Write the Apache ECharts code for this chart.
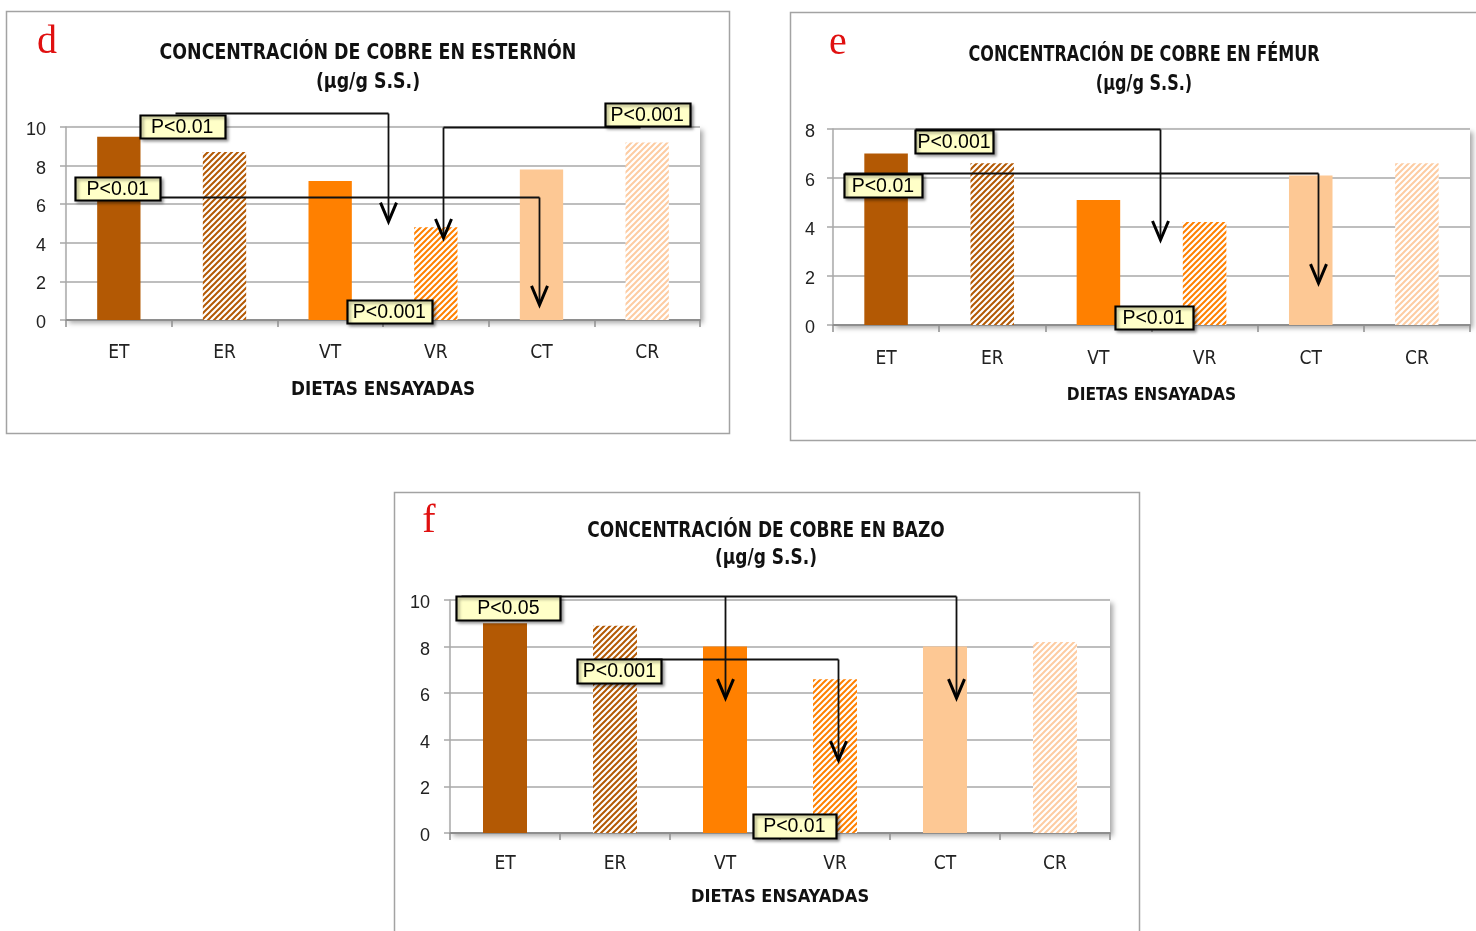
<!DOCTYPE html>
<html>
<head>
<meta charset="utf-8">
<script src="https://cdn.jsdelivr.net/npm/echarts@6/dist/echarts.min.js"></script>
<style>
  html, body { margin: 0; padding: 0; background: #fff; }
  #c { width: 1476px; height: 931px; }
</style>
</head>
<body>
<div id="c"></div>
<script>
// ---- data ----
const categories = ['ET', 'ER', 'VT', 'VR', 'CT', 'CR'];
const sternumValues = [9.5, 8.7, 7.2, 4.8, 7.8, 9.2];
const femurValues   = [7.0, 6.6, 5.1, 4.2, 6.1, 6.6];
const spleenValues  = [9.0, 8.9, 8.0, 6.6, 8.0, 8.2];
const sternumTicks = [0, 2, 4, 6, 8, 10];
const femurTicks   = [0, 2, 4, 6, 8];
const spleenTicks  = [0, 2, 4, 6, 8, 10];
const axisTitle = 'DIETAS ENSAYADAS';
const units = '(µg/g S.S.)';

// significance brackets in axis units: horizontal run at `level` from x0 to x1,
// arrows drop at each tip x down to the given value
const sternumBrackets = [
  { x0: 0.53, x1: 2.55, level: 10.73, tips: [[2.55, 5.1]] },
  { x0: 4.93, x1: 3.07, level: 10.0,  tips: [[3.07, 4.25]] },
  { x0: 0.0,  x1: 3.98, level: 6.37,  tips: [[3.98, 0.78]] }
];
const femurBrackets = [
  { x0: 0.27, x1: 2.58, level: 8.0,  tips: [[2.58, 3.47]] },
  { x0: -0.4, x1: 4.07, level: 6.22, tips: [[4.07, 1.71]] }
];
const spleenBrackets = [
  { x0: -0.4, x1: 4.1, level: 10.18, tips: [[2.0, 5.79], [4.1, 5.79]] },
  { x0: 1.04, x1: 3.03, level: 7.47, tips: [[3.03, 3.13]] }
];
// significance labels anchored in axis units
const sternumLabels = [
  { text: 'P<0.01',  x: 0.60,  y: 10.03 },
  { text: 'P<0.01',  x: -0.01, y: 6.81 },
  { text: 'P<0.001', x: 5.0,   y: 10.65 },
  { text: 'P<0.001', x: 2.56,  y: 0.44 }
];
const femurLabels = [
  { text: 'P<0.001', x: 0.64,  y: 7.47 },
  { text: 'P<0.01',  x: -0.03, y: 5.69 },
  { text: 'P<0.01',  x: 2.52,  y: 0.29 }
];
const spleenLabels = [
  { text: 'P<0.05',  x: 0.03, y: 9.66 },
  { text: 'P<0.001', x: 1.04, y: 6.97 },
  { text: 'P<0.01',  x: 2.63, y: 0.32 }
];

// ---- styling ----
const FONT_C = "'DejaVu Sans Condensed','Liberation Sans Narrow',sans-serif";
const FONT_A = "'Liberation Sans',Arial,sans-serif";
const BROWN = '#B35904', ORANGE = '#FF8000', PEACH = '#FDC894', PEACH_LIGHT = '#FDCCA2';
const GRID_GRAY = '#A8A8A8';

function stripes(color) {
  const s = 6;
  const cv = document.createElement('canvas');
  cv.width = s; cv.height = s;
  const g = cv.getContext('2d');
  g.fillStyle = '#fff';
  g.fillRect(0, 0, s, s);
  g.strokeStyle = color;
  g.lineWidth = 2.0;
  g.beginPath();
  g.moveTo(-1, 1); g.lineTo(1, -1);
  g.moveTo(0, s); g.lineTo(s, 0);
  g.moveTo(s - 1, s + 1); g.lineTo(s + 1, s - 1);
  g.stroke();
  return { image: cv, repeat: 'repeat' };
}
const fills = [BROWN, stripes(BROWN), ORANGE, stripes(ORANGE), PEACH, stripes(PEACH_LIGHT)];

const panels = [
  {
    values: sternumValues, ticks: sternumTicks, brackets: sternumBrackets, labels: sternumLabels,
    title: 'CONCENTRACIÓN DE COBRE EN ESTERNÓN',
    grid: { left: 66, top: 127, width: 634, height: 193 },
    frame: { x: 6.5, y: 11.5, width: 723, height: 422 },
    letter: 'd', letterPos: [47, 42], titlePos: [368, 68], titleLH: 29, titleScale: 0.92,
    labelMargin: 24, yMargin: 20, nameGap: 61, nameSize: 18.7, barWidth: '41%',
    boxW: { 'P<0.01': 85, 'P<0.001': 85 }, boxH: 23
  },
  {
    values: femurValues, ticks: femurTicks, brackets: femurBrackets, labels: femurLabels,
    title: 'CONCENTRACIÓN DE COBRE EN FÉMUR',
    grid: { left: 833, top: 129, width: 637, height: 196 },
    frame: { x: 790.5, y: 12.5, width: 700, height: 428 },
    letter: 'e', letterPos: [838, 43], titlePos: [1144, 70], titleLH: 29, titleScale: 0.85,
    labelMargin: 25, yMargin: 18, nameGap: 62, nameSize: 17.2, barWidth: '41%',
    boxW: { 'P<0.01': 78, 'P<0.001': 78 }, boxH: 23
  },
  {
    values: spleenValues, ticks: spleenTicks, brackets: spleenBrackets, labels: spleenLabels,
    title: 'CONCENTRACIÓN DE COBRE EN BAZO',
    grid: { left: 450, top: 600, width: 660, height: 233 },
    frame: { x: 394.5, y: 492.5, width: 745, height: 460 },
    letter: 'f', letterPos: [429, 521], titlePos: [766, 545], titleLH: 27, titleScale: 0.9,
    labelMargin: 22, yMargin: 20, nameGap: 55, nameSize: 18.1, barWidth: '40%',
    boxW: { 'P<0.05': 104, 'P<0.01': 83, 'P<0.001': 84 }, boxH: 24
  }
];

const chart = echarts.init(document.getElementById('c'), null, { renderer: 'canvas' });

const option = {
  animation: false,
  backgroundColor: '#fff',
  grid: panels.map(p => Object.assign({
    show: true, borderWidth: 0, backgroundColor: '#fff',
    shadowColor: 'rgba(0,0,0,0.35)', shadowBlur: 5, shadowOffsetX: 3, shadowOffsetY: 3
  }, p.grid)),
  xAxis: panels.map((p, i) => ({
    type: 'category', gridIndex: i, data: categories,
    axisLine: { show: true, lineStyle: { color: '#8E8E8E', width: 2 } },
    axisTick: { show: true, length: 7, lineStyle: { color: '#8E8E8E', width: 1.5 } },
    axisLabel: { fontFamily: FONT_C, fontSize: 19, color: '#222', margin: p.labelMargin },
    name: axisTitle, nameLocation: 'middle', nameGap: p.nameGap,
    nameTextStyle: { fontFamily: FONT_C, fontWeight: 'bold', fontSize: p.nameSize, color: '#111' }
  })),
  yAxis: panels.map((p, i) => ({
    type: 'value', gridIndex: i, min: 0, max: p.ticks[p.ticks.length - 1], interval: 2,
    axisLine: { show: true, lineStyle: { color: GRID_GRAY, width: 1.5 } },
    axisTick: { show: true, length: 6, lineStyle: { color: GRID_GRAY, width: 1.5 } },
    splitLine: { show: true, lineStyle: { color: GRID_GRAY, width: 1.6 } },
    axisLabel: {
      fontFamily: FONT_A, fontSize: 18, color: '#222', margin: p.yMargin,
      verticalAlign: 'top', lineHeight: 18, padding: [-6, 0, 0, 0],
      formatter: v => (p.ticks.indexOf(v) >= 0 ? String(v) : '')
    }
  })),
  series: panels.map((p, i) => ({
    type: 'bar', xAxisIndex: i, yAxisIndex: i, barWidth: p.barWidth,
    data: p.values.map((v, k) => ({ value: v, itemStyle: { color: fills[k] } }))
  })),
  graphic: []
};
chart.setOption(option);

// ---- frames, panel letters, titles and significance annotations ----
function toPixel(i, x, y) {
  const a = chart.convertToPixel({ xAxisIndex: i }, 0);
  const b = chart.convertToPixel({ xAxisIndex: i }, 1);
  const yy = chart.convertToPixel({ yAxisIndex: i }, y);
  return [a + x * (b - a), yy];
}

const graphics = [];
panels.forEach((p, i) => {
  graphics.push({
    type: 'rect', z: -10, silent: true,
    shape: p.frame,
    style: { fill: null, stroke: '#A3A3A3', lineWidth: 1.5 }
  });
  graphics.push({
    type: 'text', z: 5, x: p.letterPos[0], y: p.letterPos[1],
    style: {
      text: p.letter, fill: '#E01010', fontFamily: "'Liberation Serif','Times New Roman',serif",
      fontSize: 40, align: 'center', verticalAlign: 'middle'
    }
  });
  graphics.push({
    type: 'text', z: 5, x: p.titlePos[0], y: p.titlePos[1], scaleX: p.titleScale,
    style: {
      text: p.title + '\n' + units, fill: '#111', fontFamily: FONT_C, fontWeight: 'bold',
      fontSize: 21, lineHeight: p.titleLH, align: 'center', verticalAlign: 'middle'
    }
  });

  p.brackets.forEach(br => {
    const s = toPixel(i, br.x0, br.level);
    const e = toPixel(i, br.x1, br.level);
    graphics.push({
      type: 'polyline', z: 20, silent: true,
      shape: { points: [[Math.round(s[0]) + 0.5, Math.round(s[1]) + 0.5], [Math.round(e[0]) + 0.5, Math.round(e[1]) + 0.5]] },
      style: { stroke: '#111', lineWidth: 1.8, fill: null }
    });
    br.tips.forEach(t => {
      const top = toPixel(i, t[0], br.level);
      const tip = toPixel(i, t[0], t[1]);
      const x = Math.round(top[0]) + 0.5;
      graphics.push({
        type: 'polyline', z: 20, silent: true,
        shape: { points: [[x, Math.round(top[1]) + 0.5], [x, tip[1]]] },
        style: { stroke: '#111', lineWidth: 1.8, fill: null }
      });
      graphics.push({
        type: 'polyline', z: 20, silent: true,
        shape: { points: [[x - 8, tip[1] - 19], [x, tip[1]], [x + 8, tip[1] - 19]] },
        style: { stroke: '#000', lineWidth: 3, fill: null, lineJoin: 'miter' }
      });
    });
  });

  p.labels.forEach(lb => {
    const c = toPixel(i, lb.x, lb.y);
    const w = p.boxW[lb.text], h = p.boxH;
    graphics.push({
      type: 'rect', z: 30, silent: true,
      shape: { x: Math.round(c[0] - w / 2) + 0.5, y: Math.round(c[1] - h / 2) + 0.5, width: w, height: h },
      style: {
        fill: '#FFFFC8', stroke: '#000', lineWidth: 2.2,
        shadowColor: 'rgba(0,0,0,0.35)', shadowBlur: 3, shadowOffsetX: 2, shadowOffsetY: 2
      }
    });
    graphics.push({
      type: 'text', z: 31, silent: true, x: c[0], y: c[1] + 1,
      style: {
        text: lb.text, fill: '#000', fontFamily: FONT_A, fontSize: 19.5,
        align: 'center', verticalAlign: 'middle'
      }
    });
  });
});

chart.setOption({ graphic: graphics });
</script>
</body>
</html>
